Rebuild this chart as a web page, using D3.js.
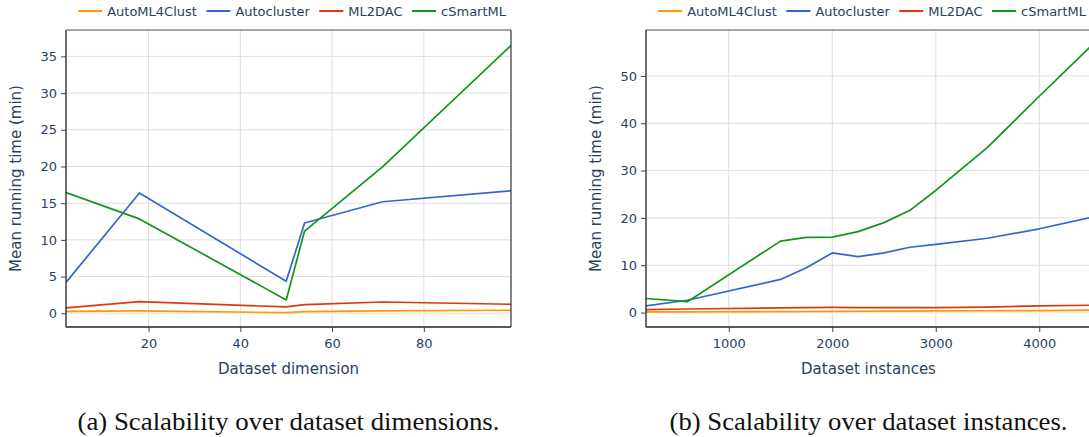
<!DOCTYPE html>
<html>
<head>
<meta charset="utf-8">
<script src="https://cdn.jsdelivr.net/npm/d3@7"></script>
<style>
  html, body { margin: 0; padding: 0; background: #fff; overflow: hidden; }
  svg { display: block; }
</style>
</head>
<body>
<div id="charts"></div>
<script>
// series names and colours
var seriesNames = ["AutoML4Clust", "Autocluster", "ML2DAC", "cSmartML"];
var seriesColors = ["#FF9900", "#3366CC", "#DC3912", "#109618"];

// (a) dataset dimensions
var dims = [2, 18, 50, 54, 71, 99];
var dimAutoML4Clust = [0.27, 0.32, 0.09, 0.23, 0.32, 0.41];
var dimAutocluster = [4.2, 16.4, 4.36, 12.3, 15.2, 16.7];
var dimML2DAC = [0.73, 1.6, 0.86, 1.18, 1.54, 1.23];
var dimCSmartML = [16.45, 12.86, 1.82, 11.2, 19.95, 36.5];
var dimYTicks = [0, 5, 10, 15, 20, 25, 30, 35];
var dimXTicks = [20, 40, 60, 80];

// (b) dataset instances
var inst = [200, 600, 1500, 1750, 2000, 2250, 2500, 2750, 3000, 3500, 4000, 4500];
var instAutoML4Clust = [0.13, 0.15, 0.2, 0.22, 0.27, 0.28, 0.3, 0.32, 0.35, 0.38, 0.42, 0.5];
var instAutocluster = [1.4, 2.6, 7.0, 9.45, 12.6, 11.8, 12.6, 13.8, 14.4, 15.7, 17.7, 20.1];
var instML2DAC = [0.63, 0.75, 1.0, 1.05, 1.1, 1.05, 1.05, 1.05, 1.05, 1.15, 1.4, 1.55];
var instCSmartML = [2.97, 2.3, 15.1, 15.9, 15.95, 17.1, 19.0, 21.6, 25.8, 34.9, 45.7, 56.3];
var instYTicks = [0, 10, 20, 30, 40, 50];
var instXTicks = [1000, 2000, 3000, 4000];

var W = 1089, H = 437;
var textColor = "#2a3f5f";

var svg = d3.select("#charts").append("svg")
    .attr("width", W)
    .attr("height", H)
    .style("font-family", "'DejaVu Sans', Verdana, sans-serif");

function drawPanel(p)
{
    var x = d3.scaleLinear().domain(p.xDomain).range([p.left, p.right]);
    var y = d3.scaleLinear().domain(p.yDomain).range([p.bottom, p.top]);
    var g = svg.append("g");

    // grid
    g.append("g").selectAll("line").data(p.xTicks).join("line")
        .attr("x1", d => x(d)).attr("x2", d => x(d))
        .attr("y1", p.top).attr("y2", p.bottom)
        .attr("stroke", "#dedede").attr("stroke-width", 1);
    g.append("g").selectAll("line").data(p.yTicks).join("line")
        .attr("x1", p.left).attr("x2", p.right)
        .attr("y1", d => y(d)).attr("y2", d => y(d))
        .attr("stroke", d => d == 0 ? "#ececec" : "#dedede")
        .attr("stroke-width", d => d == 0 ? 2 : 1);

    // lines
    var line = d3.line()
        .x((d, i) => x(p.xs[i]))
        .y(d => y(d));
    var clipId = "clip" + p.id;
    svg.append("clipPath").attr("id", clipId).append("rect")
        .attr("x", p.left).attr("y", p.top)
        .attr("width", p.right - p.left).attr("height", p.bottom - p.top);
    g.append("g").attr("clip-path", "url(#" + clipId + ")")
        .selectAll("path").data(p.series).join("path")
        .attr("d", d => line(d))
        .attr("fill", "none")
        .attr("stroke", (d, i) => seriesColors[i])
        .attr("stroke-width", 1.7)
        .attr("stroke-linejoin", "round");

    // frame
    g.append("line").attr("x1", p.left).attr("x2", p.right).attr("y1", p.top).attr("y2", p.top)
        .attr("stroke", "#8a8a8a").attr("stroke-width", 1.5);
    g.append("line").attr("x1", p.right).attr("x2", p.right).attr("y1", p.top).attr("y2", p.bottom)
        .attr("stroke", "#333").attr("stroke-width", 1.2);

    // axes
    var xAxis = d3.axisBottom(x).tickValues(p.xTicks).tickFormat(d3.format("d")).tickSize(5).tickPadding(7);
    var yAxis = d3.axisLeft(y).tickValues(p.yTicks).tickFormat(d3.format("d")).tickSize(5).tickPadding(4);
    var gx = g.append("g").attr("transform", "translate(0," + p.bottom + ")").call(xAxis);
    var gy = g.append("g").attr("transform", "translate(" + p.left + ",0)").call(yAxis);
    [gx, gy].forEach(a => {
        a.select(".domain").attr("stroke", "#222").attr("stroke-width", 1.3);
        a.selectAll(".tick line").attr("stroke", "#444");
        a.selectAll(".tick text").attr("fill", textColor)
            .style("font-size", "13px").style("font-family", "'DejaVu Sans', Verdana, sans-serif");
    });
    gx.select(".domain").attr("d", "M" + p.left + ",0H" + p.right);
    gy.select(".domain").attr("d", "M0," + p.top + "V" + p.bottom);

    // titles
    g.append("text")
        .attr("x", (p.left + p.right) / 2).attr("y", p.bottom + 47)
        .attr("text-anchor", "middle").attr("fill", textColor)
        .style("font-size", "15px").text(p.xTitle);
    g.append("text")
        .attr("transform", "translate(" + (p.left - 45) + "," + ((p.top + p.bottom) / 2) + ") rotate(-90)")
        .attr("text-anchor", "middle").attr("fill", textColor)
        .style("font-size", "15px").text("Mean running time (min)");

    // legend, right aligned to the plot
    var leg = g.append("g");
    var xPos = 0;
    seriesNames.forEach((name, i) => {
        var it = leg.append("g").attr("transform", "translate(" + xPos + ",0)");
        it.append("line").attr("x1", 0).attr("x2", 24).attr("y1", 11).attr("y2", 11)
            .attr("stroke", seriesColors[i]).attr("stroke-width", 2);
        var t = it.append("text").attr("x", 29).attr("y", 16)
            .attr("fill", textColor).style("font-size", "13px").text(name);
        xPos += 29 + t.node().getComputedTextLength() + 9.5;
    });
    leg.attr("transform", "translate(" + (p.right - 5 - (xPos - 9.5)) + ",0)");

    // caption
    svg.append("text")
        .attr("x", (p.left + p.right) / 2).attr("y", 430)
        .attr("text-anchor", "middle").attr("fill", "#111")
        .attr("textLength", p.captionWidth).attr("lengthAdjust", "spacingAndGlyphs")
        .style("font-family", "'Liberation Serif', 'Times New Roman', serif")
        .style("font-size", "25px")
        .text(p.caption);
}

drawPanel({
    id: "a", left: 66, right: 511, top: 30, bottom: 327,
    xDomain: [2, 99], yDomain: [-1.87, 38.6],
    xs: dims, xTicks: dimXTicks, yTicks: dimYTicks,
    series: [dimAutoML4Clust, dimAutocluster, dimML2DAC, dimCSmartML],
    xTitle: "Dataset dimension",
    caption: "(a) Scalability over dataset dimensions.", captionWidth: 422
});

drawPanel({
    id: "b", left: 646, right: 1091, top: 30, bottom: 327,
    xDomain: [200, 4500], yDomain: [-3.05, 59.7],
    xs: inst, xTicks: instXTicks, yTicks: instYTicks,
    series: [instAutoML4Clust, instAutocluster, instML2DAC, instCSmartML],
    xTitle: "Dataset instances",
    caption: "(b) Scalability over dataset instances.", captionWidth: 398
});
</script>
</body>
</html>
